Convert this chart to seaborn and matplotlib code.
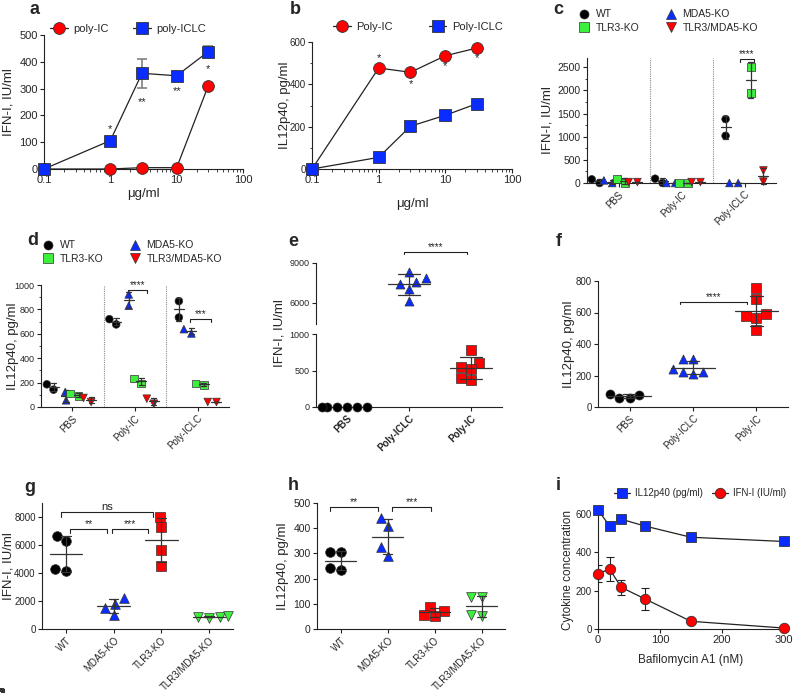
import warnings
import numpy as np
import pandas as pd
import seaborn as sns
import matplotlib.pyplot as plt
from matplotlib.lines import Line2D
from matplotlib.ticker import MultipleLocator

warnings.filterwarnings("ignore")

sns.set_style("ticks")
plt.rcParams['font.family'] = ['Liberation Sans', 'DejaVu Sans']

# ---------------- data ----------------
# a / b : dose response (ug/ml)
doses = [0.1, 1, 3, 10, 30]
a_polyic = [0, 0, 5, 5, 311]
a_polyiclc = [0, 106, 357, 348, 438]
a_polyiclc_sd = [0, 0, 53, 0, 20]
a_stars = ["", "*", "**", "**", "*"]
a_star_y = [0, 150, 250, 292, 372]
b_polyic = [0, 477, 457, 535, 572]
b_polyiclc = [0, 55, 202, 254, 309]
b_stars = ["", "*", "*", "*", "*"]
b_star_y = [0, 525, 400, 487, 522]

# c / d : stimulus x genotype, two wells each
stimuli = ["PBS", "Poly-IC", "Poly-ICLC"]
genotypes = ["WT", "MDA5-KO", "TLR3-KO", "TLR3/MDA5-KO"]
c_wt = [[0, 79], [0, 93], [1380, 1020]]
c_mda5 = [[0, 57], [0, 0], [0, 0]]
c_tlr3 = [[0, 93], [0, 0], [2500, 1950]]
c_dko = [[20, 20], [20, 20], [270, 30]]
d_wt = [[142, 186], [677, 720], [868, 734]]
d_mda5 = [[55, 123], [830, 923], [603, 638]]
d_tlr3 = [[90, 110], [192, 233], [178, 192]]
d_dko = [[41, 74], [27, 68], [41, 41]]

# e / f
ef_groups = ["PBS", "Poly-ICLC", "Poly-IC"]
e_pbs = [0, 0, 0, 0, 0, 0]
e_polyiclc = [7850, 8350, 7400, 7550, 7050, 6100]
e_polyic = [781, 598, 520, 552, 370, 393]
f_pbs = [78, 57, 57, 85]
f_polyiclc = [222, 207, 222, 303, 303, 239]
f_polyic = [755, 684, 593, 567, 578, 487]

# g / h
g_wt = [6670, 6260, 4170, 4310]
g_mda5 = [1810, 2210, 1500, 1020]
g_tlr3 = [7260, 8000, 5670, 4520]
g_dko = [880, 820, 900, 850]
h_wt = [304, 304, 233, 242]
h_mda5 = [440, 407, 325, 291]
h_tlr3 = [70, 88, 55, 50]
h_dko = [128, 126, 50, 55]

# i
bafilomycin = [0, 18.75, 37.5, 75, 150, 300]
i_il12 = [620, 537, 572, 537, 478, 456]
i_ifn = [288, 312, 217, 158, 40, 5]
i_ifn_sd = [45, 62, 39, 57, 5, 3]

# ---------------- style ----------------
RED, BLUE, GREEN, BLACK = "#ff0000", "#0a2cff", "#3df03d", "#000000"
EDGE = "#333333"
W, H = 793, 693

fig = plt.figure(figsize=(W / 100, H / 100), dpi=100)


def px_axes(l, t, r, b):
    return fig.add_axes([l / W, 1 - b / H, (r - l) / W, (b - t) / H])


def finish(ax, ls=8):
    sns.despine(ax=ax)
    for sp in ax.spines.values():
        sp.set_linewidth(0.8)
        sp.set_color("#222222")
    ax.tick_params(length=3, width=0.8, pad=1.5, color="#222222")
    ax.tick_params(axis="y", labelsize=ls)
    ax.tick_params(which="minor", length=1.8, width=0.6)
    # let the swarm markers sit over the axis lines like the original
    for c in ax.collections:
        if type(c).__name__ == "PathCollection":
            c.set_clip_on(False)


def ylab(ax, text, right_px, fs=9.5):
    # y label placed by the pixel column of its right edge
    ax.set_ylabel(text, fontsize=fs)
    bb = ax.get_position()
    ax.yaxis.set_label_coords((right_px / W - bb.x0) / bb.width, 0.5)


def letter(x, y, s):
    fig.text(x / W, 1 - y / H, s, fontsize=13, fontweight="bold", va="center", ha="center")


def bracket(ax, x1, x2, y, drop, label, fs=7.5):
    ax.plot([x1, x1, x2, x2], [y - drop, y, y, y - drop], color="#222222", lw=0.8, clip_on=False)
    ax.text((x1 + x2) / 2, y, label, ha="center", va="bottom", fontsize=fs)


def mean_sd(ax, x, vals, half, cap, color="#333333"):
    m, s = np.mean(vals), np.std(vals, ddof=1)
    kw = dict(color=color, lw=0.9, zorder=3, clip_on=False)
    ax.plot([x - half, x + half], [m, m], **kw)
    ax.plot([x, x], [m - s, m + s], **kw)
    ax.plot([x - cap, x + cap], [m - s, m - s], **kw)
    ax.plot([x - cap, x + cap], [m + s, m + s], **kw)


def legend(ax, handles, cx, cy, ncol, fs=8, **kw):
    ax.legend(handles=handles, loc="center", bbox_to_anchor=(cx / W, 1 - cy / H),
              bbox_transform=fig.transFigure, ncol=ncol, frameon=False, fontsize=fs,
              handletextpad=0.5, borderaxespad=0, borderpad=0, labelspacing=0.35, **kw)


def cat_labels(ax, labels, fs, bold=False):
    ax.set_xticks(range(len(labels)))
    ax.set_xticklabels(labels, rotation=45, ha="right", rotation_mode="anchor",
                       fontsize=fs, fontweight="bold" if bold else "normal")
    ax.set_xlabel("")


def dose_panel(ax, ic, iclc, ic_label, iclc_label, sd=None):
    ax.set_xscale("log")
    if sd is not None:
        ax.errorbar(doses, iclc, yerr=sd, fmt="none", ecolor="#808080", elinewidth=1.2,
                    capsize=3.5, capthick=1.2, zorder=2)
    sns.lineplot(x=doses, y=ic, ax=ax, errorbar=None, color="#222222", lw=0.9, marker="o",
                 markersize=8.5, markerfacecolor=RED, markeredgecolor=EDGE,
                 markeredgewidth=0.6, clip_on=False, zorder=3)
    sns.lineplot(x=doses, y=iclc, ax=ax, errorbar=None, color="#222222", lw=0.9, marker="s",
                 markersize=8, markerfacecolor=BLUE, markeredgecolor=EDGE,
                 markeredgewidth=0.6, clip_on=False, zorder=3)
    ax.set_xlim(0.1, 100)
    ax.set_xticks([0.1, 1, 10, 100], ["0.1", "1", "10", "100"])
    ax.tick_params(axis="x", labelsize=8)
    h = [Line2D([0], [0], color="#222222", lw=0.9, marker="o", ms=8.5, mfc=RED, mec=EDGE,
                mew=0.6, label=ic_label),
         Line2D([0], [0], color="#222222", lw=0.9, marker="s", ms=8, mfc=BLUE, mec=EDGE,
                mew=0.6, label=iclc_label)]
    return h


# ---------------- a ----------------
ax = px_axes(44, 35, 243, 169)
h = dose_panel(ax, a_polyic, a_polyiclc, "poly-IC", "poly-ICLC", a_polyiclc_sd)
for d, s, y in zip(doses, a_stars, a_star_y):
    if s:
        ax.text(d, y, s, ha="center", va="center", fontsize=8)
ax.set_ylim(0, 500)
ax.set_yticks(range(0, 501, 100))
ax.set_xlabel("μg/ml", fontsize=9.5, labelpad=2)
ylab(ax, "IFN-I, IU/ml", 15)
legend(ax, h, 128, 29, 2, columnspacing=2.2, handlelength=1.6)
finish(ax, 8)

# ---------------- b ----------------
ax = px_axes(312, 42, 512, 169)
h = dose_panel(ax, b_polyic, b_polyiclc, "Poly-IC", "Poly-ICLC")
for d, s, y in zip(doses, b_stars, b_star_y):
    if s:
        ax.text(d, y, s, ha="center", va="center", fontsize=8)
ax.set_ylim(0, 600)
ax.set_yticks(range(0, 601, 200))
ax.yaxis.set_minor_locator(MultipleLocator(100))
ax.set_xlabel("μg/ml", fontsize=9.5, labelpad=9)
ylab(ax, "IL12p40, pg/ml", 291)
legend(ax, h, 418, 27, 2, columnspacing=3.2, handlelength=1.6)
finish(ax, 7)

# ---------------- c / d ----------------
geno_style = {"WT": ("o", BLACK), "MDA5-KO": ("^", BLUE),
              "TLR3-KO": ("s", GREEN), "TLR3/MDA5-KO": ("v", RED)}


def grouped_panel(ax, series, size):
    for j, (geno, vals) in enumerate(zip(genotypes, series)):
        marker, col = geno_style[geno]
        df = pd.DataFrame({"stim": [s for s, v in zip(stimuli, vals) for _ in v],
                           "geno": geno, "val": [x for v in vals for x in v]})
        sns.swarmplot(data=df, x="stim", y="val", hue="geno", order=stimuli,
                      hue_order=genotypes, dodge=True, palette={g: col for g in genotypes},
                      marker=marker, size=size, edgecolor=EDGE, linewidth=0.5,
                      legend=False, ax=ax)
        for i, v in enumerate(vals):
            mean_sd(ax, i - 0.3 + 0.2 * j, v, 0.08, 0.04)
    for xs in (0.5, 1.5):
        ax.axvline(xs, color="#8a8a8a", lw=0.8, ls=(0, (1, 1)))
    ax.set_xlim(-0.5, 2.5)
    cat_labels(ax, stimuli, 7)


def geno_handles(ms):
    return [Line2D([0], [0], ls="none", marker=geno_style[g][0], color=geno_style[g][1],
                   mec=EDGE, mew=0.5, ms=ms, label=g)
            for g in ["WT", "TLR3-KO", "MDA5-KO", "TLR3/MDA5-KO"]]


ax = px_axes(587, 58, 776, 183)
grouped_panel(ax, [c_wt, c_mda5, c_tlr3, c_dko], 5.5)
ax.set_ylim(0, 2700)
ax.set_yticks(range(0, 2501, 500))
ax.yaxis.set_minor_locator(MultipleLocator(250))
ylab(ax, "IFN-I, IU/ml", 554)
bracket(ax, 1.93, 2.15, 2680, 70, "****", fs=7)
legend(ax, geno_handles(6.5), 668, 21, 2, fs=7.5, columnspacing=2.4, handlelength=1.2)
finish(ax, 7.5)

ax = px_axes(41, 285, 229, 407)
grouped_panel(ax, [d_wt, d_mda5, d_tlr3, d_dko], 5.5)
ax.set_ylim(0, 1000)
ax.set_yticks(range(0, 1001, 200))
ax.yaxis.set_minor_locator(MultipleLocator(100))
ylab(ax, "IL12p40, pg/ml", 19)
bracket(ax, 0.89, 1.19, 960, 25, "****", fs=7)
bracket(ax, 1.88, 2.21, 720, 25, "***", fs=7)
legend(ax, geno_handles(6.5), 132, 252, 2, fs=7.5, columnspacing=2.4, handlelength=1.2)
finish(ax, 6.5)

# ---------------- e ----------------
ef_style = {"PBS": ("o", BLACK), "Poly-ICLC": ("^", BLUE), "Poly-IC": ("s", RED)}


def cat_swarm(ax, order, groups, style, values, size):
    for g, vals in zip(groups, values):
        marker, col = style[g]
        df = pd.DataFrame({"cat": g, "val": vals})
        sns.swarmplot(data=df, x="cat", y="val", order=order, color=col, marker=marker,
                      size=size, edgecolor=EDGE, linewidth=0.5, ax=ax)
    ax.set_ylabel("")


ax_top = px_axes(316, 263, 502, 324)
ax_bot = px_axes(316, 334, 502, 407)
cat_swarm(ax_top, ef_groups, ["Poly-ICLC"], ef_style, [e_polyiclc], 6.5)
mean_sd(ax_top, 1, e_polyiclc, 0.34, 0.17)
cat_swarm(ax_bot, ef_groups, ["PBS", "Poly-IC"], ef_style, [e_pbs, e_polyic], 6.5)
mean_sd(ax_bot, 2, e_polyic, 0.34, 0.17)
for a_ in (ax_top, ax_bot):
    a_.set_xlim(-0.5, 2.5)
ax_top.set_ylim(4400, 9000)
ax_top.set_yticks([6000, 9000])
ax_bot.set_ylim(0, 1000)
ax_bot.set_yticks([0, 500, 1000])
cat_labels(ax_bot, ef_groups, 7, bold=True)
finish(ax_top, 6.5)
finish(ax_bot, 6.5)
ax_top.spines["bottom"].set_visible(False)
ax_top.tick_params(axis="x", bottom=False, labelbottom=False)
ax_top.set_xlabel("")
bracket(ax_top, 0.92, 1.94, 9830, 150, "****", fs=7)
fig.text(279 / W, 1 - 333 / H, "IFN-I, IU/ml", rotation=90, fontsize=9.5,
         ha="center", va="center")

# ---------------- f ----------------
ax = px_axes(598, 281, 788, 407)
f_vals = [f_pbs, f_polyiclc, f_polyic]
cat_swarm(ax, ef_groups, ef_groups, ef_style, f_vals, 6.5)
for i, v in enumerate(f_vals):
    mean_sd(ax, i, v, 0.34, 0.1)
ax.set_xlim(-0.5, 2.5)
ax.set_ylim(0, 800)
ax.set_yticks(range(0, 801, 200))
cat_labels(ax, ef_groups, 7)
ylab(ax, "IL12p40, pg/ml", 575)
bracket(ax, 0.8, 1.85, 667, 15, "****", fs=7)
finish(ax, 7)

# ---------------- g / h ----------------
gh_style = {"WT": ("o", BLACK), "MDA5-KO": ("^", BLUE),
            "TLR3-KO": ("s", RED), "TLR3/MDA5-KO": ("v", GREEN)}

ax = px_axes(42, 503, 233, 629)
g_vals = [g_wt, g_mda5, g_tlr3, g_dko]
cat_swarm(ax, genotypes, genotypes, gh_style, g_vals, 7)
for i, v in enumerate(g_vals):
    mean_sd(ax, i, v, 0.34, 0.1)
ax.set_xlim(-0.5, 3.5)
ax.set_ylim(0, 9000)
ax.set_yticks(range(0, 8001, 2000))
cat_labels(ax, genotypes, 7)
ylab(ax, "IFN-I, IU/ml", 15)
bracket(ax, -0.1, 1.82, 8360, 380, "ns", fs=8)
bracket(ax, 0.09, 0.86, 7140, 300, "**")
bracket(ax, 0.97, 1.72, 7140, 300, "***")
finish(ax, 7)

ax = px_axes(317, 503, 505, 629)
h_vals = [h_wt, h_mda5, h_tlr3, h_dko]
cat_swarm(ax, genotypes, genotypes, gh_style, h_vals, 7)
for i, v in enumerate(h_vals):
    mean_sd(ax, i, v, 0.34, 0.1)
ax.set_xlim(-0.5, 3.5)
ax.set_ylim(0, 500)
ax.set_yticks(range(0, 501, 100))
cat_labels(ax, genotypes, 7)
ylab(ax, "IL12p40, pg/ml", 289)
bracket(ax, -0.22, 0.8, 484, 16, "**")
bracket(ax, 1.1, 1.93, 484, 16, "***")
finish(ax, 7.5)

# ---------------- i ----------------
ax = px_axes(598, 510, 784, 629)
ax.errorbar(bafilomycin, i_ifn, yerr=i_ifn_sd, fmt="none", ecolor="#222222", elinewidth=0.8,
            capsize=3, capthick=0.8, zorder=2)
sns.lineplot(x=bafilomycin, y=i_il12, ax=ax, errorbar=None, color="#222222", lw=0.9,
             marker="s", markersize=7, markerfacecolor=BLUE, markeredgecolor=EDGE,
             markeredgewidth=0.6, clip_on=False, zorder=3)
sns.lineplot(x=bafilomycin, y=i_ifn, ax=ax, errorbar=None, color="#222222", lw=0.9,
             marker="o", markersize=7.5, markerfacecolor=RED, markeredgecolor=EDGE,
             markeredgewidth=0.6, clip_on=False, zorder=3)
ax.set_xlim(0, 300)
ax.set_ylim(0, 620)
ax.set_xticks([0, 100, 200, 300])
ax.set_yticks([0, 200, 400, 600])
ax.tick_params(axis="x", labelsize=8)
ax.set_xlabel("Bafilomycin A1 (nM)", fontsize=8.5, labelpad=6)
ylab(ax, "Cytokine concentration", 574, fs=8.5)
h = [Line2D([0], [0], color="#222222", lw=0.9, marker="s", ms=7, mfc=BLUE, mec=EDGE,
            mew=0.6, label="IL12p40 (pg/ml)"),
     Line2D([0], [0], color="#222222", lw=0.9, marker="o", ms=7.5, mfc=RED, mec=EDGE,
            mew=0.6, label="IFN-I (IU/ml)")]
legend(ax, h, 700, 493, 2, fs=7, columnspacing=1.0, handlelength=1.6)
finish(ax, 7)

# panel letters
for s, x, y in [("a", 35, 10), ("b", 295, 10), ("c", 558, 10), ("d", 33, 240),
                ("e", 293, 242), ("f", 559, 242), ("g", 30, 487), ("h", 293, 485),
                ("i", 558, 485)]:
    letter(x, y, s)

fig.savefig("out.png", dpi=100, facecolor="white")
